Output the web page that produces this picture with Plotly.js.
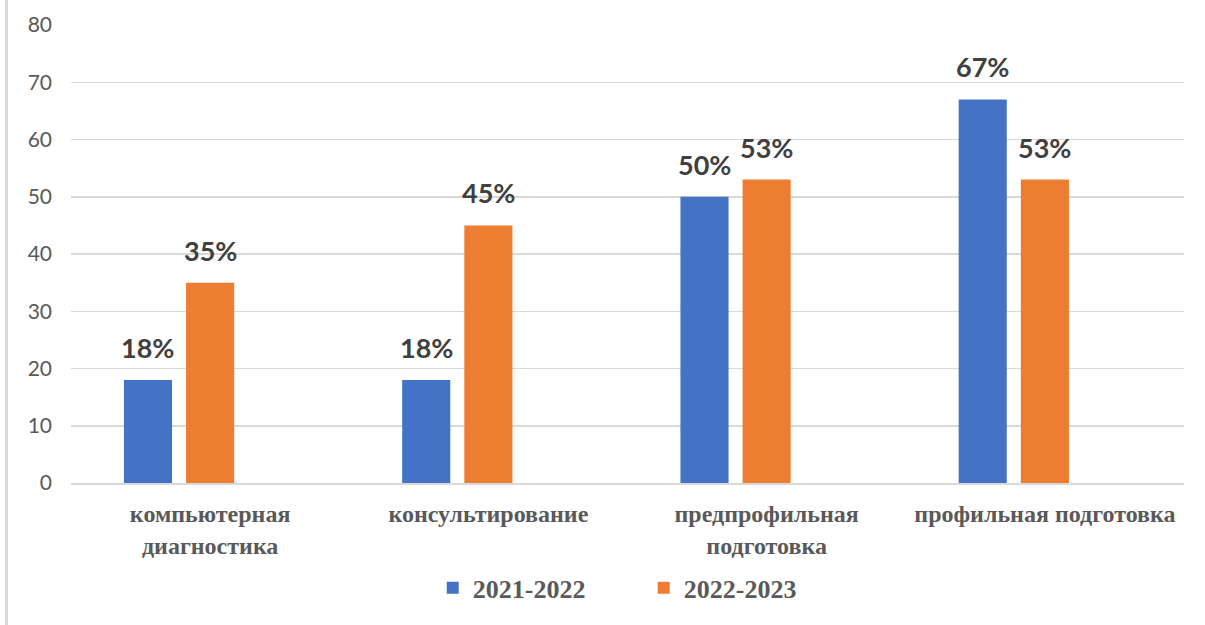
<!DOCTYPE html>
<html>
<head>
<meta charset="utf-8">
<script src="https://cdn.plot.ly/plotly-3.0.1.min.js"></script>
<style>
  html, body { margin: 0; padding: 0; background: #fff; }
  #wrap { position: relative; width: 1205px; height: 625px; }
  #chart { position: absolute; left: 0; top: 0; width: 1205px; height: 625px; }
  #frame { position: absolute; left: 5px; top: 0; width: 3px; height: 625px; background: #d9d9d9; pointer-events: none; }
</style>
</head>
<body>
<div id="wrap"><div id="chart"></div><div id="frame"></div></div>
<script>
const categories = ["компьютерная диагностика", "консультирование", "предпрофильная подготовка", "профильная подготовка"];
const tickLabels = ["компьютерная<br>диагностика", "консультирование", "предпрофильная<br>подготовка", "профильная подготовка"];
const seriesNames = ["2021-2022", "2022-2023"];
const values2021 = [18, 18, 50, 67];
const values2022 = [35, 45, 53, 53];
const emptySeries = [null, null, null, null];
const colors = ["#4472C4", "#ED7D31"];

const bargap = 0.33;
const slot = (1 - bargap) / 3;

const traces = [
  { type: "bar", name: seriesNames[0], x: categories, y: values2021, marker: { color: colors[0] }, hoverinfo: "none" },
  { type: "bar", name: seriesNames[1], x: categories, y: values2022, marker: { color: colors[1] }, hoverinfo: "none" },
  { type: "bar", name: "", x: categories, y: emptySeries, showlegend: false, hoverinfo: "none" }
];

const labelFont = { family: "Lato, 'Open Sans', sans-serif", size: 27, color: "#404040", weight: 700 };
const annotations = [];
[values2021, values2022].forEach((vals, s) => {
  vals.forEach((v, i) => {
    annotations.push({
      x: i + (s - 1) * slot, y: v, xref: "x", yref: "y",
      text: "<b>" + v + "%</b>", showarrow: false,
      yanchor: "bottom", xanchor: "center", yshift: 14,
      font: labelFont
    });
  });
});

const layout = {
  width: 1205, height: 625,
  margin: { l: 71, r: 21, t: 25, b: 142 },
  paper_bgcolor: "#fff", plot_bgcolor: "#fff",
  barmode: "group", bargap: bargap, bargroupgap: 0.226,
  showlegend: true,
  legend: {
    orientation: "h", x: 0.325, xanchor: "left", y: -0.229, yanchor: "middle",
    font: { family: "'Liberation Serif', 'Times New Roman', serif", size: 26, color: "#595959", weight: 700 },
    itemwidth: 30, entrywidth: 166, entrywidthmode: "pixels"
  },
  xaxis: {
    type: "category",
    tickvals: categories, ticktext: tickLabels.map(t => "<b>" + t + "</b>"),
    tickfont: { family: "'Liberation Serif', 'Times New Roman', serif", size: 24, color: "#595959" },
    showgrid: false, showline: true, linecolor: "#d9d9d9", linewidth: 1.5,
    ticks: "", ticklabelstandoff: 9, tickangle: 0
  },
  yaxis: {
    range: [0, 80], dtick: 10, tick0: 0,
    showgrid: true, gridcolor: "#d9d9d9", gridwidth: 1.5,
    zeroline: false, showline: false, ticks: "",
    tickfont: { family: "Lato, 'Open Sans', sans-serif", size: 21, color: "#595959" },
    ticklabelstandoff: 18
  },
  annotations: annotations
};

Plotly.newPlot("chart", traces, layout, { displayModeBar: false, staticPlot: true });
</script>
</body>
</html>
